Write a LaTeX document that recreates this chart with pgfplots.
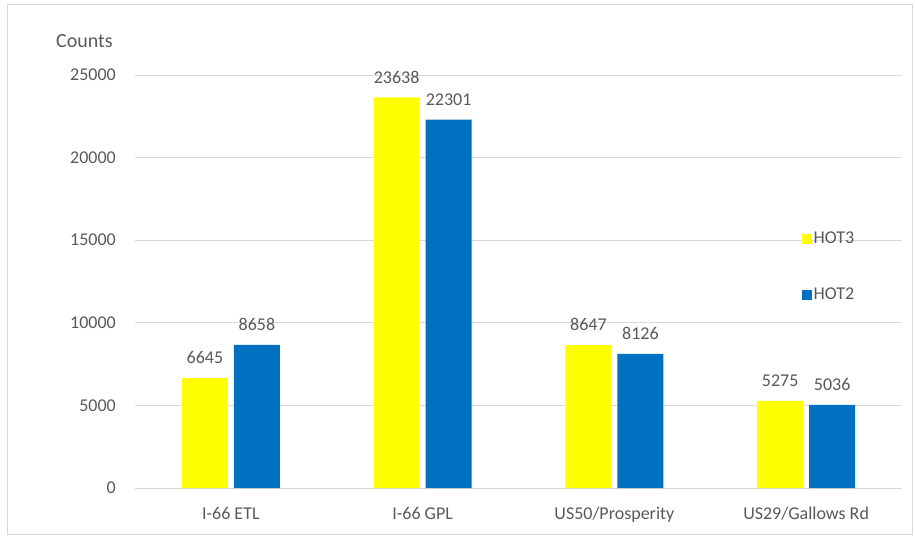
\documentclass[border=0pt]{standalone}
\usepackage{pgfplots}
\pgfplotsset{compat=1.18}
\usepackage{fontspec}
\setmainfont{Carlito}
\definecolor{hotyellow}{HTML}{FFFF00}
\definecolor{hotblue}{HTML}{0070C0}
\definecolor{txtgray}{HTML}{595959}
\definecolor{gridgray}{HTML}{D9D9D9}
\begin{document}
\begin{tikzpicture}[x=1pt,y=1pt]
% page frame
\path (0,0) rectangle (915,536);
\draw[gridgray] (7.5,1.5) rectangle (912.5,531.5);
\node[anchor=base west, text=txtgray, inner sep=0pt, font=\fontsize{20}{24}\selectfont] at (56,488) {Counts};
\begin{axis}[
    at={(135pt,48pt)}, anchor=south west,
    scale only axis, width=767pt, height=413pt,
    ybar=6pt, bar width=46pt,
    xmin=-0.5, xmax=3.5, ymin=0, ymax=25000,
    xtick=data,
    xticklabels={I-66 ETL, I-66 GPL, US50/Prosperity, US29/Gallows Rd},
    ytick={0,5000,10000,15000,20000,25000},
    scaled y ticks=false,
    /pgf/number format/assume math mode=true,
    /pgf/number format/1000 sep={},
    ymajorgrids, grid style={gridgray, line width=0.8pt},
    axis line style={draw=none},
    major tick length=0pt,
    ticklabel style={font=\fontsize{18}{21}\selectfont, text=txtgray},
    yticklabel style={anchor=east, inner sep=0pt, xshift=-19pt},
    xticklabel style={anchor=north, inner sep=0pt, yshift=-19pt},
    nodes near coords,
    every node near coord/.append style={anchor=south, inner sep=0pt, yshift=14pt,
        font=\fontsize{18}{21}\selectfont, text=txtgray},
    legend style={at={(0.865,0.536)}, anchor=west, draw=none, fill=none,
        font=\fontsize{18}{21}\selectfont, text=txtgray, row sep=39pt,
        nodes={inner sep=2pt}},
    legend cell align=left,
]
\addplot[fill=hotyellow, draw=none,
    legend image code/.code={\fill[hotyellow] (0pt,-5pt) rectangle (10pt,5pt);}]
    coordinates {(0,6645) (1,23638) (2,8647) (3,5275)};
\addlegendentry{HOT3}
\addplot[fill=hotblue, draw=none,
    legend image code/.code={\fill[hotblue] (0pt,-5pt) rectangle (10pt,5pt);}]
    coordinates {(0,8658) (1,22301) (2,8126) (3,5036)};
\addlegendentry{HOT2}
\end{axis}
\end{tikzpicture}
\end{document}
